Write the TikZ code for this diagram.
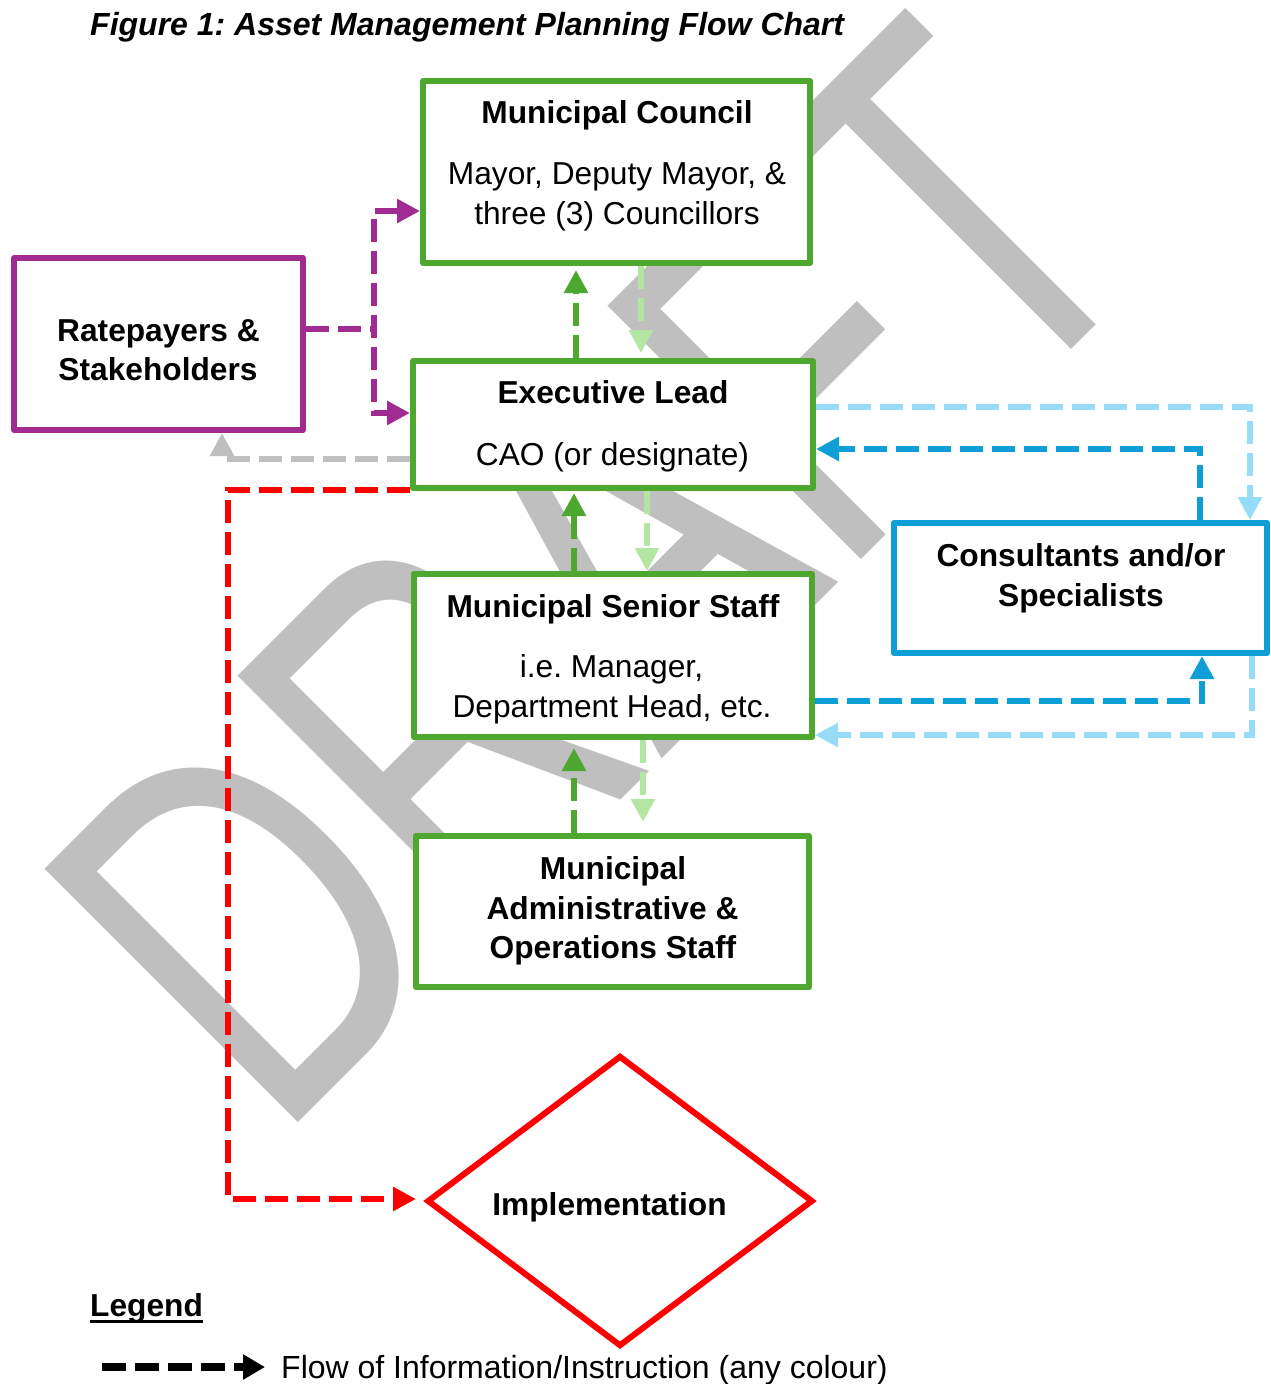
\documentclass[tikz,border=0pt]{standalone}
\usepackage{fontspec}
\setmainfont{Liberation Sans}
\usetikzlibrary{arrows.meta,shapes.geometric}
\definecolor{cgreen}{HTML}{4EA72E}
\definecolor{clgreen}{HTML}{B4E5A2}
\definecolor{cpurple}{HTML}{A02B93}
\definecolor{cblue}{HTML}{0F9ED5}
\definecolor{clblue}{HTML}{96DCF8}
\definecolor{cgray}{HTML}{BFBFBF}
\definecolor{cred}{HTML}{FF0000}
\frenchspacing
\begin{document}
\begin{tikzpicture}[x=1pt,y=1pt,
  box/.style={draw, line width=6pt, fill=white, line join=round, inner sep=0pt},
  txt/.style={inner sep=0pt, anchor=base, font=\fontsize{31.7}{38}\selectfont},
  btxt/.style={txt, font=\fontsize{31.7}{38}\selectfont\bfseries},
  con/.style={line width=6pt, dash pattern=on 23pt off 9pt},
  >={Triangle[length=23pt,width=23pt]}]
\useasboundingbox (0,0) rectangle (1271,-1384);
\fill[white] (0,0) rectangle (1271,-1384);
\clip (0,0) rectangle (1271,-1384);

% watermark
\begin{scope}[shift={(276.5,-1144.5)}, rotate=45, yscale=1.382]
  \node[font=\fontsize{377}{400}\selectfont, text=cgray, anchor=base west, inner sep=0pt, transform shape] (draft) at (0,0) {DRAFT};
\end{scope}

% title
\node[txt, anchor=base west, font=\fontsize{32}{38}\selectfont\bfseries\itshape] (title) at (90,-35) {Figure 1: Asset Management Planning Flow Chart};

% boxes
\node[box, draw=cgreen, minimum width=387pt, minimum height=182pt] (council) at (616.5,-172) {};
\node[box, draw=cgreen, minimum width=400pt, minimum height=127pt] (exec) at (613,-424.5) {};
\node[box, draw=cgreen, minimum width=398pt, minimum height=163pt] (senior) at (613,-655.5) {};
\node[box, draw=cgreen, minimum width=393pt, minimum height=151pt] (admin) at (612.5,-911.5) {};
\node[box, draw=cpurple, minimum width=289pt, minimum height=172pt] (rate) at (158.5,-344) {};
\node[box, draw=cblue, minimum width=373pt, minimum height=130pt] (cons) at (1080.5,-588) {};
\node[draw=cred, line width=6pt, fill=white, diamond, inner sep=0pt, minimum width=386pt, minimum height=291pt] (impl) at (620,-1201) {};

% texts
\node[btxt] (councilA) at (617,-123) {Municipal Council};
\node[txt] (councilB) at (617,-184) {Mayor, Deputy Mayor, \&};
\node[txt] (councilC) at (617,-224) {three (3) Councillors};
\node[btxt] (execA) at (613,-403.5) {Executive Lead};
\node[txt] (execB) at (612.5,-465) {CAO (or designate)};
\node[btxt] (seniorA) at (613,-617) {Municipal Senior Staff};
\node[txt] (seniorB) at (611.5,-677) {i.e. Manager,};
\node[txt] (seniorC) at (612,-717) {Department Head, etc.};
\node[btxt] (adminA) at (613,-879.5) {Municipal};
\node[btxt] (adminB) at (612.5,-919) {Administrative \&};
\node[btxt] (adminC) at (613,-958) {Operations Staff};
\node[btxt] (rateA) at (158.5,-341) {Ratepayers \&};
\node[btxt] (rateB) at (158,-380) {Stakeholders};
\node[btxt] (consA) at (1081,-566.5) {Consultants and/or};
\node[btxt] (consB) at (1081,-606) {Specialists};
\node[btxt] (implT) at (609.5,-1215.5) {Implementation};

% coordinates
\coordinate (p1) at (374,-329);
\coordinate (p2) at (374,-211);
\coordinate (p3) at (374,-413);
\coordinate (g1) at (576,0);
\coordinate (g2) at (641,0);
\coordinate (g3) at (574,0);
\coordinate (g4) at (647,0);
\coordinate (g5) at (574,0);
\coordinate (g6) at (643,0);
\coordinate (gy) at (222,-459);
\coordinate (r1) at (228,-490);
\coordinate (r2) at (228,-1199);
\coordinate (lb1) at (1250,-407);
\coordinate (db1) at (1200,-449);
\coordinate (db2) at (1202,-701);
\coordinate (lb2) at (1252,-735);

% purple
\draw[con, cpurple] (rate.east |- p1) -- (p1);
\draw[con, cpurple, <->] (council.west |- p2) -- (p2) -- (p3) -- (exec.west |- p3);

% green
\draw[con, cgreen, ->, shorten >=4pt] (exec.north -| g1) -- (council.south -| g1);
\draw[con, clgreen, ->, shorten >=5pt] (council.south -| g2) -- (exec.north -| g2);
\draw[con, cgreen, ->, shorten >=2pt] (senior.north -| g3) -- (exec.south -| g3);
\draw[con, clgreen, ->] (exec.south -| g4) -- (senior.north -| g4);
\draw[con, cgreen, ->, shorten >=8pt] (admin.north -| g5) -- (senior.south -| g5);
\draw[con, clgreen, ->, shorten >=11pt] (senior.south -| g6) -- (admin.north -| g6);

% gray
\draw[con, cgray, ->] (exec.west |- gy) -- (gy) -- (rate.south -| gy);

% red
\draw[con, cred, ->, shorten >=8pt] (exec.west |- r1) -- (r1) -- (r2) -- (impl.west |- r2);

% blue
\draw[con, clblue, ->] (exec.east |- lb1) -- (lb1) -- (cons.north -| lb1);
\draw[con, cblue, ->] (cons.north -| db1) -- (db1) -- (exec.east |- db1);
\draw[con, cblue, ->] (senior.east |- db2) -- (db2) -- (cons.south -| db2);
\draw[con, clblue, ->] (cons.south -| lb2) -- (lb2) -- (senior.east |- lb2);

% legend
\node[btxt, anchor=base west] (legend) at (90,-1316.5) {\setbox0=\hbox{Legend}\rlap{\vrule height -3pt depth 6pt width \wd0}\box0};
\coordinate (la) at (102,-1367);
\coordinate (lb) at (265,-1367);
\draw[line width=8pt, dash pattern=on 24pt off 9pt, black, -{Triangle[length=22pt,width=24pt]}] (la) -- (lb);
\node[txt, anchor=base west, font=\fontsize{32}{38}\selectfont] (legtext) at (281,-1378) {Flow of Information/Instruction (any colour)};
\end{tikzpicture}
\end{document}
